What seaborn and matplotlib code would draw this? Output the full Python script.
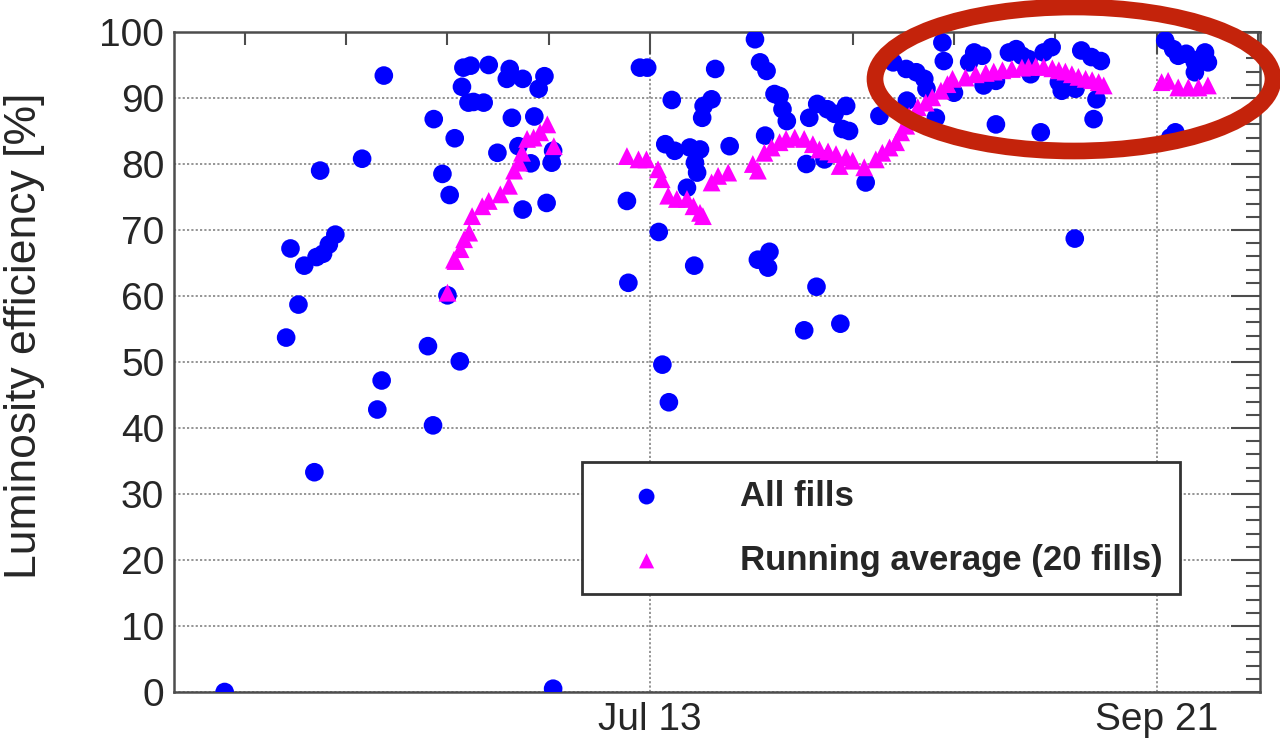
import numpy as np
import pandas as pd
import matplotlib
matplotlib.use("Agg")
import matplotlib.pyplot as plt
import matplotlib.dates as mdates
from matplotlib.ticker import MultipleLocator, FixedLocator
from matplotlib.patches import Ellipse
import seaborn as sns


# fill times are kept as days counted from this date
REFERENCE_DATE = "2012-07-13"

# all fills: days from reference date
fill_days = [
    -58.8, -50.3, -49.7, -48.6, -47.8, -46.4, -46.1, -45.6, -45.2, -44.4,
    -43.5, -39.8, -37.7, -37.1, -36.8, -30.7, -30.0, -29.9, -28.7, -28.0,
    -27.7, -27.0, -26.3, -26.0, -25.8, -25.1, -24.8, -24.4, -23.0, -22.3,
    -21.1, -19.8, -19.4, -19.1, -18.2, -17.6, -17.6, -16.5, -16.0, -15.4,
    -14.6, -14.3, -13.6, -13.4, -13.4, -3.2, -3.0, -1.4, -0.4, 1.2,
    1.7, 2.1, 2.6, 3.0, 3.4, 5.1, 5.5, 6.1, 6.2, 6.5,
    6.9, 7.2, 7.4, 8.5, 9.0, 11.0, 14.5, 14.9, 15.2, 15.9,
    16.1, 16.3, 16.5, 17.2, 17.9, 18.3, 18.9, 21.3, 21.6, 22.0,
    23.0, 23.1, 24.1, 24.5, 25.5, 26.3, 26.6, 27.1, 27.5, 29.8,
    31.7, 33.6, 35.4, 35.5, 36.8, 37.9, 38.2, 39.5, 40.4, 40.6,
    42.0, 44.1, 44.8, 45.9, 46.1, 47.8, 47.8, 49.6, 50.6, 51.4,
    52.3, 52.6, 54.0, 54.4, 55.5, 56.5, 56.9, 58.7, 58.8, 59.6,
    61.0, 61.3, 61.7, 62.3, 71.2, 71.9, 72.3, 72.6, 73.0, 74.1,
    75.3, 75.3, 76.0, 76.7, 77.1,
]

# all fills: luminosity efficiency [%]
fill_efficiency = [
    0.0, 53.7, 67.2, 58.7, 64.6, 33.3, 65.9, 79.0, 66.4, 67.8,
    69.3, 80.8, 42.8, 47.2, 93.4, 52.4, 40.4, 86.8, 78.5, 60.1,
    75.3, 83.9, 50.1, 91.7, 94.6, 89.3, 94.9, 89.4, 89.3, 95.0,
    81.7, 92.9, 94.4, 87.0, 82.7, 92.9, 73.1, 80.1, 87.2, 91.4,
    93.3, 74.1, 80.2, 82.0, 0.5, 74.4, 62.0, 94.6, 94.6, 69.7,
    49.6, 83.0, 43.9, 89.7, 82.0, 76.4, 82.5, 64.6, 80.2, 78.7,
    82.2, 87.0, 88.8, 89.8, 94.4, 82.7, 98.9, 65.5, 95.4, 84.3,
    94.1, 64.3, 66.7, 90.6, 90.3, 88.3, 86.5, 54.8, 80.0, 87.0,
    61.4, 89.1, 80.7, 88.3, 87.6, 55.8, 85.3, 88.8, 85.0, 77.2,
    87.3, 95.4, 94.4, 89.6, 93.9, 92.9, 91.4, 87.0, 98.4, 95.6,
    90.8, 95.4, 96.9, 96.4, 91.9, 92.6, 86.0, 96.9, 97.4, 96.4,
    95.9, 93.6, 84.8, 96.9, 97.7, 92.4, 91.1, 68.7, 91.4, 97.2,
    96.2, 86.8, 89.8, 95.6, 98.7, 84.0, 97.4, 84.8, 96.4, 96.7,
    95.4, 93.9, 95.9, 96.9, 95.4,
]

# running average over 20 fills: days from reference date
average_days = [
    -28.0, -27.1, -26.9, -26.2, -25.7, -25.0, -24.6, -23.2, -22.3, -20.7,
    -19.5, -18.8, -18.1, -17.7, -17.0, -16.1, -15.2, -14.2, -13.3, -3.2,
    -1.6, -0.5, 1.1, 1.6, 2.5, 3.7, 5.1, 6.0, 6.9, 7.3,
    8.5, 9.4, 10.8, 14.2, 14.9, 15.8, 16.8, 17.9, 18.8, 20.0,
    21.3, 22.5, 23.4, 24.6, 25.7, 26.2, 27.1, 28.0, 29.6, 31.2,
    32.1, 33.1, 34.0, 34.7, 35.4, 35.8, 37.0, 38.1, 39.0, 40.2,
    41.1, 41.8, 43.6, 45.0, 46.4, 47.5, 48.7, 50.0, 51.4, 52.3,
    53.3, 54.4, 55.6, 56.5, 57.4, 58.3, 59.2, 60.2, 61.1, 62.0,
    62.7, 70.7, 71.6, 73.0, 74.4, 75.8, 77.1,
]

# running average over 20 fills: luminosity efficiency [%]
average_efficiency = [
    60.5, 65.5, 65.3, 67.1, 68.6, 69.6, 72.1, 73.6, 74.4, 75.4,
    76.7, 79.0, 80.2, 81.7, 83.8, 84.0, 84.8, 86.0, 82.7, 81.2,
    80.7, 80.7, 79.2, 77.7, 75.2, 74.7, 74.7, 73.6, 72.6, 72.1,
    77.2, 78.2, 78.7, 80.0, 79.0, 81.7, 82.5, 83.3, 83.8, 84.0,
    83.8, 83.0, 82.2, 81.9, 81.5, 79.7, 81.0, 80.5, 79.5, 80.7,
    81.7, 82.5, 83.3, 84.8, 85.8, 87.3, 88.6, 89.3, 90.1, 91.1,
    92.1, 92.9, 93.1, 93.6, 93.8, 94.0, 94.2, 94.4, 94.6, 94.7,
    94.8, 94.7, 94.5, 94.2, 94.0, 93.6, 93.2, 92.9, 92.7, 92.4,
    91.9, 92.4, 92.6, 91.6, 91.6, 91.6, 91.9,
]

# labelled dates on the x axis
major_tick_days = [0, 70]


def to_dates(days):
    """
    Converts day offsets into timestamps.

    Args:
        days (list[float]): Days counted from the reference date.

    Returns:
        pandas.DatetimeIndex: The matching timestamps.
    """

    return pd.Timestamp(REFERENCE_DATE) + pd.to_timedelta(np.asarray(days, dtype=float), unit="D")


fills = pd.DataFrame({"date": to_dates(fill_days), "efficiency": fill_efficiency})
average = pd.DataFrame({"date": to_dates(average_days), "efficiency": average_efficiency})

sns.set_theme(style="white")
plt.rcParams["font.family"] = ["Liberation Sans", "DejaVu Sans"]

fig = plt.figure(figsize=(12.8, 7.4), dpi=100)
ax = fig.add_axes([174 / 1280, 1 - 692 / 740, 1086 / 1280, 660 / 740])

# the two series
sns.scatterplot(
    data=fills, x="date", y="efficiency", ax=ax,
    marker="o", s=180, color="#0000ff", edgecolor="none", linewidth=0,
    label="All fills", zorder=3,
)
sns.scatterplot(
    data=average, x="date", y="efficiency", ax=ax,
    marker="^", s=165, color="#ff00ff", edgecolor="none", linewidth=0,
    label="Running average (20 fills)", zorder=4,
)

# axis ranges
x_limits = to_dates([-65.8, 84.3])
ax.set_xlim(x_limits[0], x_limits[1])
ax.set_ylim(0, 100)

# ticks
ax.xaxis.set_major_locator(FixedLocator(mdates.date2num(to_dates(major_tick_days))))
ax.xaxis.set_minor_locator(FixedLocator(mdates.date2num(to_dates(np.arange(-56, 85, 14)))))
ax.xaxis.set_major_formatter(mdates.DateFormatter("%b %d"))
ax.yaxis.set_major_locator(MultipleLocator(10))
ax.yaxis.set_minor_locator(MultipleLocator(2))

ax.tick_params(axis="both", which="both", direction="in", top=True, right=True,
               color="#4d4d4d", width=1.5, labelsize=28)
ax.tick_params(axis="y", which="major", length=21, pad=7)
ax.tick_params(axis="y", which="minor", length=10)
ax.tick_params(axis="x", which="major", length=16, pad=7)
ax.tick_params(axis="x", which="minor", length=9)

# dotted grid on the major ticks
ax.grid(True, which="major", axis="both", linestyle=(0, (1.2, 1.2)), color="#8c8c8c", linewidth=1.3)

for spine in ax.spines.values():
    spine.set_color("#4d4d4d")
    spine.set_linewidth(1.8)

ax.set_xlabel("")
ax.set_ylabel("Luminosity efficiency [%]", fontsize=32)
ax.yaxis.set_label_coords(-0.119, 0.54)

# legend
legend = ax.legend(
    loc="upper left", bbox_to_anchor=(0.376, 0.348),
    prop={"weight": "bold", "size": 25},
    frameon=True, fancybox=False, framealpha=1,
    borderpad=0.5, labelspacing=0.9, handlelength=2.7, handletextpad=1.35,
    markerscale=0.85, borderaxespad=0,
)
legend.get_frame().set_edgecolor("#333333")
legend.get_frame().set_linewidth(2)

# red highlight around the last weeks
fig.add_artist(Ellipse(
    (1074 / 1280, 1 - 79 / 740), 398 / 1280, 144 / 740,
    transform=fig.transFigure, fill=False, edgecolor="#c4230b", linewidth=12, zorder=10,
))

fig.savefig("out.png", dpi=100)
